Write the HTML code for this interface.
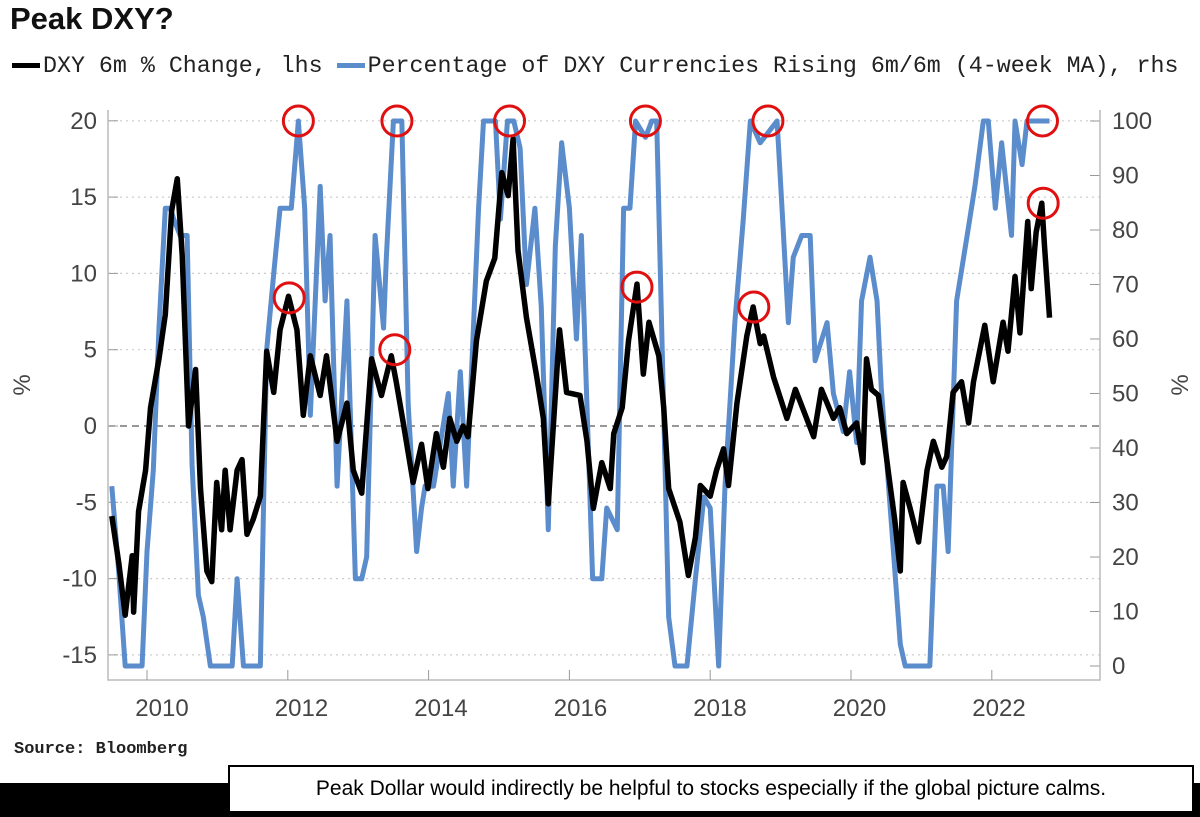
<!DOCTYPE html>
<html><head><meta charset="utf-8"><style>
body{margin:0;width:1200px;height:817px;background:#fff;overflow:hidden;position:relative;font-family:"Liberation Sans",sans-serif}
.t{position:absolute}
</style></head><body>
<div class="t" style="left:10px;top:1px;font-size:31px;font-weight:bold;color:#111">Peak DXY?</div>
<div class="t" style="left:12px;top:53px;font-family:'Liberation Mono',monospace;font-size:23.3px;color:#222;white-space:nowrap">
<span><span style="display:inline-block;width:28px;height:5px;background:#000;vertical-align:middle;margin-right:3px"></span>DXY 6m % Change, lhs</span>
<span><span style="display:inline-block;width:28px;height:5px;background:#5b8ccc;vertical-align:middle;margin:0 3px 0 0"></span>Percentage of DXY Currencies Rising 6m/6m (4-week MA), rhs</span></div>
<svg id="c" width="1200" height="817" style="position:absolute;left:0;top:0"></svg>
<div class="t" style="left:14px;top:740px;font-family:'Liberation Mono',monospace;font-size:17px;font-weight:bold;color:#222">Source: Bloomberg</div>
<div class="t" style="left:0;top:783px;width:1200px;height:34px;background:#000"></div>
<div class="t" style="left:228px;top:765px;width:962px;height:44px;background:#fff;border:2px solid #000;font-size:21px;line-height:44px;text-align:center;color:#000">Peak Dollar would indirectly be helpful to stocks especially if the global picture calms.</div>
<script>
const leftTicks=[20,15,10,5,0,-5,-10,-15];
const rightTicks=[100,90,80,70,60,50,40,30,20,10,0];
const years=[2010,2012,2014,2016,2018,2020,2022];
const dxyDates=[2009.50,2009.60,2009.69,2009.79,2009.81,2009.88,2009.98,2010.05,2010.17,2010.26,2010.35,2010.43,2010.50,2010.59,2010.69,2010.76,2010.85,2010.92,2010.99,2011.06,2011.11,2011.18,2011.28,2011.35,2011.42,2011.51,2011.61,2011.70,2011.80,2011.89,2012.01,2012.13,2012.22,2012.32,2012.46,2012.55,2012.70,2012.84,2012.93,2013.05,2013.19,2013.33,2013.47,2013.54,2013.64,2013.78,2013.90,2013.99,2014.11,2014.21,2014.30,2014.40,2014.49,2014.56,2014.68,2014.82,2014.94,2015.04,2015.13,2015.20,2015.27,2015.39,2015.53,2015.63,2015.70,2015.86,2015.96,2016.15,2016.25,2016.34,2016.46,2016.58,2016.63,2016.75,2016.84,2016.96,2017.05,2017.13,2017.27,2017.34,2017.41,2017.57,2017.69,2017.79,2017.86,2018.00,2018.09,2018.19,2018.26,2018.38,2018.52,2018.61,2018.71,2018.76,2018.90,2019.09,2019.21,2019.47,2019.58,2019.75,2019.84,2019.94,2020.08,2020.17,2020.22,2020.29,2020.39,2020.46,2020.55,2020.62,2020.70,2020.74,2020.84,2020.96,2021.08,2021.17,2021.29,2021.36,2021.45,2021.57,2021.67,2021.74,2021.90,2022.02,2022.16,2022.23,2022.33,2022.40,2022.51,2022.56,2022.63,2022.71,2022.75,2022.82];
const dxyValues=[-5.9,-9.0,-12.4,-8.5,-12.2,-5.6,-2.9,1.2,4.4,7.3,14.1,16.2,11.2,0,3.7,-4.1,-9.5,-10.2,-3.7,-6.8,-2.9,-6.8,-2.9,-2.2,-7.1,-6.1,-4.6,4.9,2.2,6.3,8.5,6.3,0.7,4.6,2.0,4.6,-1.0,1.5,-2.9,-4.4,4.4,2.0,4.6,2.9,0.2,-3.7,-1.2,-4.1,-0.5,-2.7,0.5,-1.0,0,-0.7,5.6,9.5,11.0,16.6,15.1,18.8,11.5,7.1,3.4,0.5,-5.1,6.3,2.2,2.0,-1.0,-5.4,-2.4,-4.1,-0.5,1.2,5.6,9.3,3.4,6.8,4.6,1.2,-4.1,-6.3,-9.8,-7.3,-3.9,-4.6,-2.9,-1.5,-3.9,1.5,5.9,7.8,5.4,5.9,3.2,0.5,2.4,-0.7,2.4,0.5,1.2,-0.5,0.2,-2.4,4.4,2.4,2.0,-0.5,-3.7,-6.1,-9.5,-3.7,-5.4,-7.6,-2.9,-1.0,-2.7,-2.0,2.2,2.9,0.2,2.9,6.6,2.9,6.8,4.9,9.8,6.1,13.4,9.0,12.7,14.6,11.7,7.1];
const pctDates=[2009.50,2009.60,2009.69,2009.93,2010.00,2010.09,2010.17,2010.26,2010.33,2010.38,2010.47,2010.57,2010.64,2010.73,2010.80,2010.90,2011.21,2011.28,2011.37,2011.61,2011.70,2011.80,2011.89,2012.05,2012.15,2012.24,2012.32,2012.46,2012.53,2012.60,2012.70,2012.84,2012.96,2013.05,2013.12,2013.24,2013.36,2013.40,2013.50,2013.62,2013.71,2013.83,2013.90,2013.95,2014.07,2014.28,2014.35,2014.45,2014.54,2014.71,2014.78,2014.95,2015.02,2015.12,2015.21,2015.30,2015.39,2015.51,2015.60,2015.70,2015.80,2015.89,2016.00,2016.10,2016.17,2016.33,2016.39,2016.46,2016.53,2016.68,2016.77,2016.86,2016.94,2017.08,2017.17,2017.24,2017.41,2017.50,2017.67,2017.79,2017.91,2018.00,2018.12,2018.21,2018.35,2018.47,2018.57,2018.71,2018.95,2019.02,2019.11,2019.18,2019.30,2019.42,2019.49,2019.66,2019.75,2019.89,2019.98,2020.08,2020.15,2020.27,2020.37,2020.43,2020.58,2020.70,2020.77,2021.12,2021.22,2021.31,2021.38,2021.50,2021.65,2021.76,2021.88,2021.95,2022.05,2022.14,2022.28,2022.33,2022.43,2022.50,2022.82];
const pctValues=[33,17,0,0,21,36,62,84,84,82,79,79,37,13,9,0,0,16,0,0,58,72,84,84,100,84,46,88,67,79,33,67,16,16,20,79,62,75,100,100,48,21,29,33,33,50,33,54,33,84,100,100,82,100,100,95,70,84,66,25,77,96,84,60,79,16,16,16,29,25,84,84,100,97,100,100,9,0,0,16,31,29,0,33,63,82,100,96,100,84,63,75,79,79,56,63,50,43,54,41,67,75,67,51,25,4,0,0,33,33,21,67,79,88,100,100,84,96,79,100,92,100,100];
const dxyPeaks=[[2012.02,8.4],[2013.52,5.0],[2016.96,9.1],[2018.62,7.8],[2022.73,14.6]];
const pctPeaks=[[2012.15,100],[2013.55,100],[2015.15,100],[2017.08,100],[2018.82,100],[2022.72,100]];
const X=y=>147+70.4*(y-2010), YL=v=>426-15.26*v, YR=v=>666-5.45*v;
const svg=document.getElementById('c'),NS='http://www.w3.org/2000/svg';
function mk(t,a,p){const e=document.createElementNS(NS,t);for(const k in a)e.setAttribute(k,a[k]);(p||svg).appendChild(e);return e;}
leftTicks.forEach(v=>{
 const g=mk('line',{x1:108,x2:1100,y1:YL(v),y2:YL(v),stroke:v===0?'#777':'#ccc','stroke-width':v===0?1.5:1.2,'stroke-dasharray':v===0?'7,5':'2,4'});
 
 
 const tk=mk('line',{x1:108,x2:118,y1:YL(v),y2:YL(v),stroke:'#999'});
 
 
 const t=mk('text',{x:97,y:YL(v)+8,'text-anchor':'end','font-size':24,fill:'#444','font-family':'Liberation Sans'});t.textContent=v;
 
 
});
rightTicks.forEach(v=>{
 const tk=mk('line',{x1:1090,x2:1100,y1:YR(v),y2:YR(v),stroke:'#999'});
 
 
 const t=mk('text',{x:1112,y:YR(v)+8,'font-size':24,fill:'#444','font-family':'Liberation Sans'});t.textContent=v;
 
 
});
const ax=mk('path',{d:'M108,110V680H1100V110',fill:'none',stroke:'#bbb','stroke-width':1.5});


years.forEach((y,i)=>{
 const tk=mk('line',{x1:X(y),x2:X(y),y1:680,y2:670,stroke:'#999'});
 
 
 const t=mk('text',{x:X(y)+15-1.3*i,y:716,'text-anchor':'middle','font-size':24,fill:'#444','font-family':'Liberation Sans'});t.textContent=y;
 
 
});
[[30,'left-axis-title'],[1188,'right-axis-title']].forEach(([x,n])=>{
 const t=mk('text',{x:x,y:385,transform:`rotate(-90 ${x} 385)`,'text-anchor':'middle','font-size':24,fill:'#444','font-family':'Liberation Sans'});t.textContent='%';
 
 
});
const pb=mk('polyline',{points:pctDates.map((d,i)=>X(d)+','+YR(pctValues[i])).join(' '),fill:'none',stroke:'#5b8ccc','stroke-width':5,'stroke-linejoin':'round'});


const pk=mk('polyline',{points:dxyDates.map((d,i)=>X(d)+','+YL(dxyValues[i])).join(' '),fill:'none',stroke:'#000','stroke-width':5.5,'stroke-linejoin':'round'});


dxyPeaks.forEach(p=>{const c=mk('circle',{cx:X(p[0]),cy:YL(p[1]),r:15,fill:'none',stroke:'#e01010','stroke-width':3});
 
 });
pctPeaks.forEach(p=>{const c=mk('circle',{cx:X(p[0]),cy:YR(p[1]),r:15,fill:'none',stroke:'#e01010','stroke-width':3});
 
 });
</script>
</body></html>
